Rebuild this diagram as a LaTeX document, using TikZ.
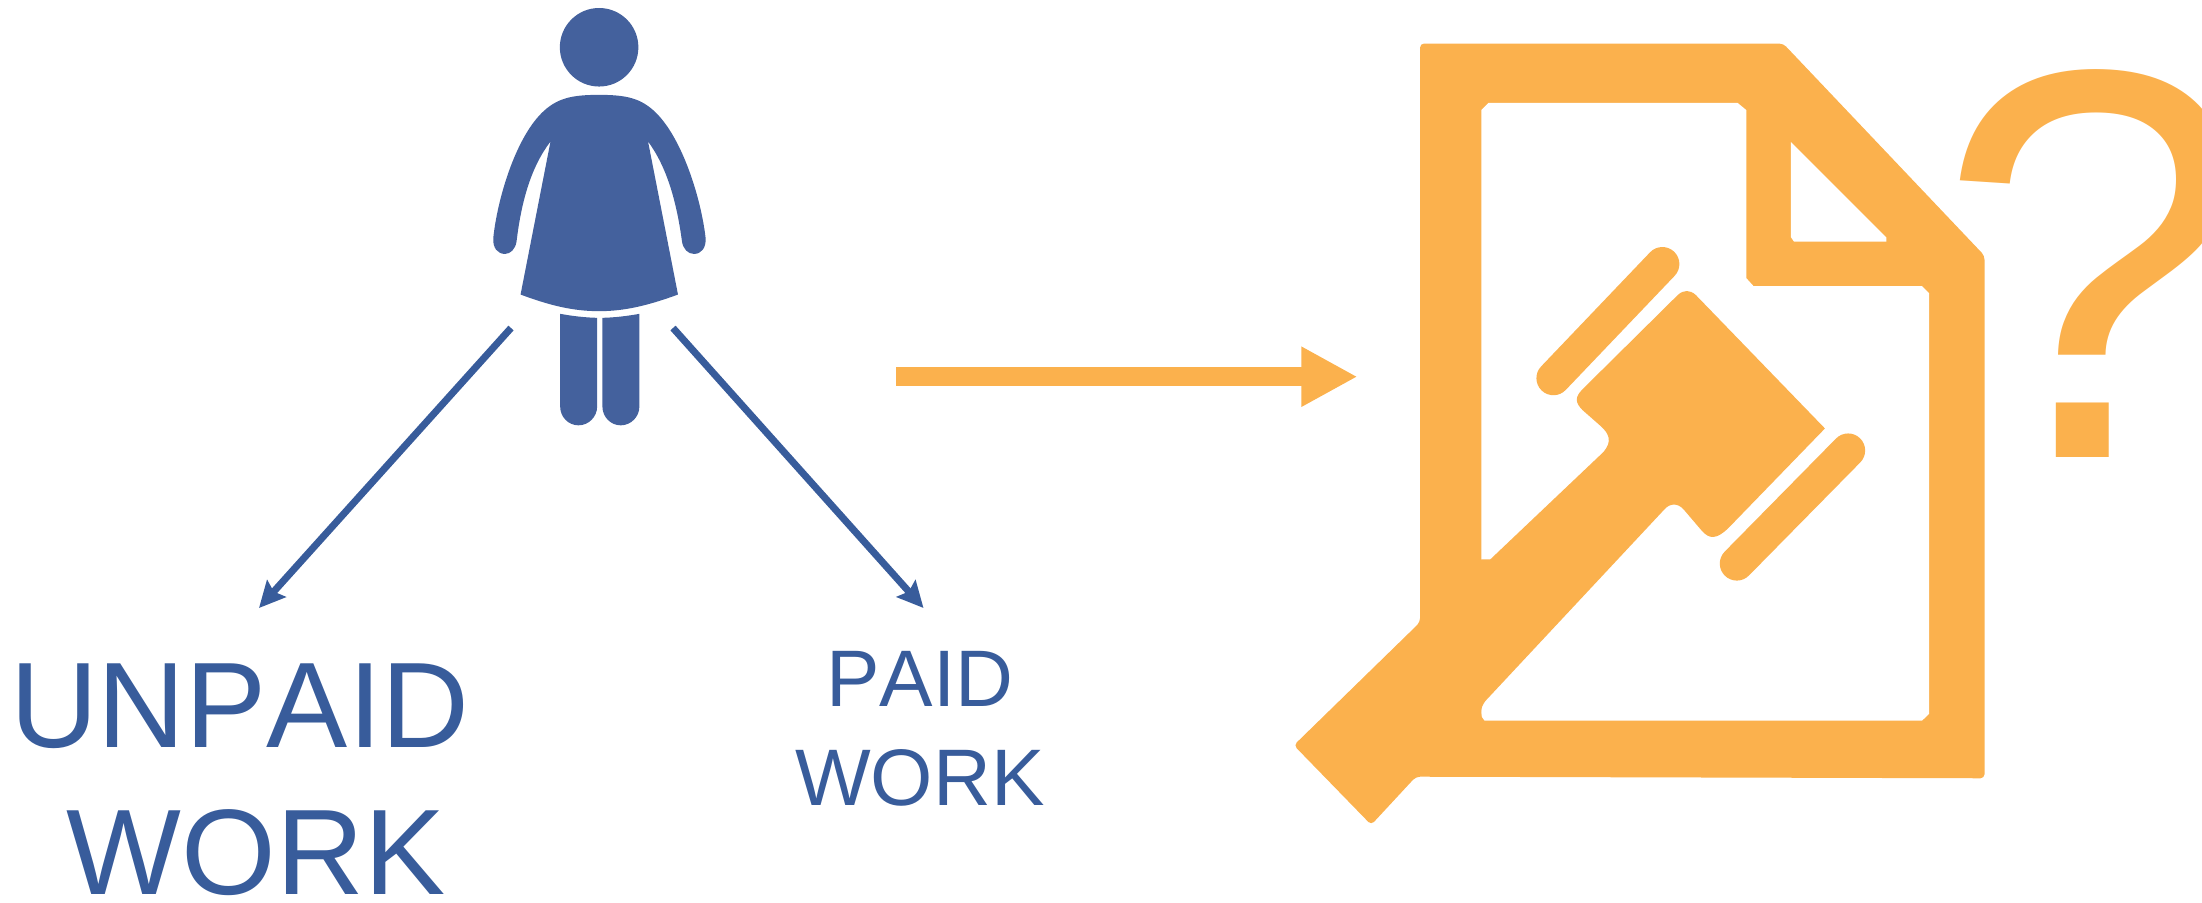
\documentclass[tikz,border=0pt]{standalone}
\usepackage{fontspec}
\setmainfont{Liberation Sans}[Kerning=Off]
\usetikzlibrary{positioning, arrows.meta}
\definecolor{figblue}{HTML}{44619D}
\definecolor{textblue}{HTML}{385C9B}
\definecolor{lawgold}{HTML}{FBB14D}

\begin{document}
\begin{tikzpicture}[x=0.01cm, y=-0.01cm]
  \tikzset{
    figfill/.style={fill=figblue},
    lawfill/.style={fill=lawgold},
    holefill/.style={fill=white},
    workarrow/.style={draw=textblue, line width=0.07cm, -{Stealth[length=0.26cm, width=0.25cm, inset=0.04cm]}},
    lawarrow/.style={draw=lawgold, line width=0.19cm, -{Triangle[length=0.56cm, width=0.56cm]}},
    gavelbar/.style={draw=lawgold, line width=0.34cm, line cap=round},
    biglabel/.style={text=textblue, font=\fontsize{34.6}{41.7}\selectfont, align=center, inner sep=0pt},
    smalllabel/.style={text=textblue, font=\fontsize{22.8}{28}\selectfont, align=center, inner sep=0pt},
  }
  \useasboundingbox (0,0) rectangle (2202,902);

  %% ===== Woman figure =====
  \begin{scope}[shift={(460,0)}, x=0.00333cm, y=-0.00333cm]
    \fill[figfill] (418,142) circle[radius=118];
    % Dress and arms, clockwise from the neck
    \fill[figfill] (418,285) .. controls (500,285) and (545,295) .. (590,340)
      .. controls (670,420) and (725,600) .. (738,715)
      .. controls (740,745) and (725,763) .. (703,763)
      .. controls (685,763) and (670,748) .. (667,725)
      .. controls (650,600) and (620,500) .. (565,425) -- (655,885)
      .. controls (560,920) and (490,935) .. (418,935)
      .. controls (345,935) and (275,920) .. (182,885) -- (272,425)
      .. controls (215,500) and (185,600) .. (170,725)
      .. controls (167,748) and (152,763) .. (135,763)
      .. controls (113,763) and (98,745) .. (100,715)
      .. controls (112,600) and (165,420) .. (245,340)
      .. controls (290,295) and (335,285) .. (418,285) -- cycle;
    \fill[figfill] (301,943) .. controls (340,950) and (375,954) .. (412,955) -- (412,1222)
      .. controls (412,1252) and (387,1278) .. (356,1278)
      .. controls (325,1278) and (301,1252) .. (301,1222) -- cycle;
    \fill[figfill] (428,955) .. controls (465,954) and (500,950) .. (539,943) -- (539,1222)
      .. controls (539,1252) and (514,1278) .. (483,1278)
      .. controls (452,1278) and (428,1252) .. (428,1222) -- cycle;
  \end{scope}

  %% ===== Labels and arrows =====
  \node[biglabel] (unpaid) at (240,780) {UNPAID\\\hspace*{0.32cm}WORK};
  \node[smalllabel] (paid) at (920,729) {PAID\\WORK};
  \coordinate (leftstart) at (511,328);
  \coordinate (rightstart) at (673,328);
  \coordinate (unpaidtip) at (259,608);
  \coordinate (paidtip) at (923.5,608);
  \draw[workarrow] (leftstart) -- (unpaidtip);
  \draw[workarrow] (rightstart) -- (paidtip);
  \coordinate (lawstart) at (896,376.7);
  \coordinate (lawtip) at (1357.5,376.7);
  \draw[lawarrow] (lawstart) -- (lawtip);

  %% ===== Document with gavel =====
  \begin{scope}[shift={(1270,20)}, x=0.005945cm, y=-0.00523cm]
    \fill[lawfill, rounded corners=0.04cm] (252,45) -- (862,45) -- (1200,450) -- (1200,1448) -- (245,1445)
      -- (170,1537) -- (40,1385) -- (252,1150) -- cycle;
    % Page interior and folded corner
    \fill[holefill] (355,172) -- (367,158) -- (785,158) -- (800,172) -- (800,493)
      -- (812,508) -- (1095,508) -- (1107,522) -- (1107,1325) -- (1095,1338) -- (355,1338) -- cycle;
    \fill[holefill] (875,233) -- (1035,415) -- (1035,423) -- (880,423) -- (875,415) -- cycle;
    % Gavel head and handle
    \fill[lawfill] (355,1030) -- (370,1030) -- (560,825) .. controls (575,805) and (570,790) .. (555,775)
      -- (525,745) .. controls (512,730) and (512,720) .. (525,705) -- (685,525)
      .. controls (695,515) and (705,515) .. (715,525) -- (932,780) -- (770,970)
      .. controls (750,992) and (738,992) .. (725,975) -- (695,935)
      .. controls (685,922) and (672,922) .. (662,935) -- (362,1300) .. controls (352,1315) and (352,1330) .. (360,1338)
      -- (300,1400) -- (300,1100) -- cycle;
    \draw[gavelbar] (476,684) -- (659,466);
    \draw[gavelbar] (784,1038) -- (971,822);
  \end{scope}

  \node[text=lawgold, font=\fontsize{158}{158}\selectfont, anchor=base west, inner sep=0pt] (query) at (1937,457) {?};
\end{tikzpicture}
\end{document}
